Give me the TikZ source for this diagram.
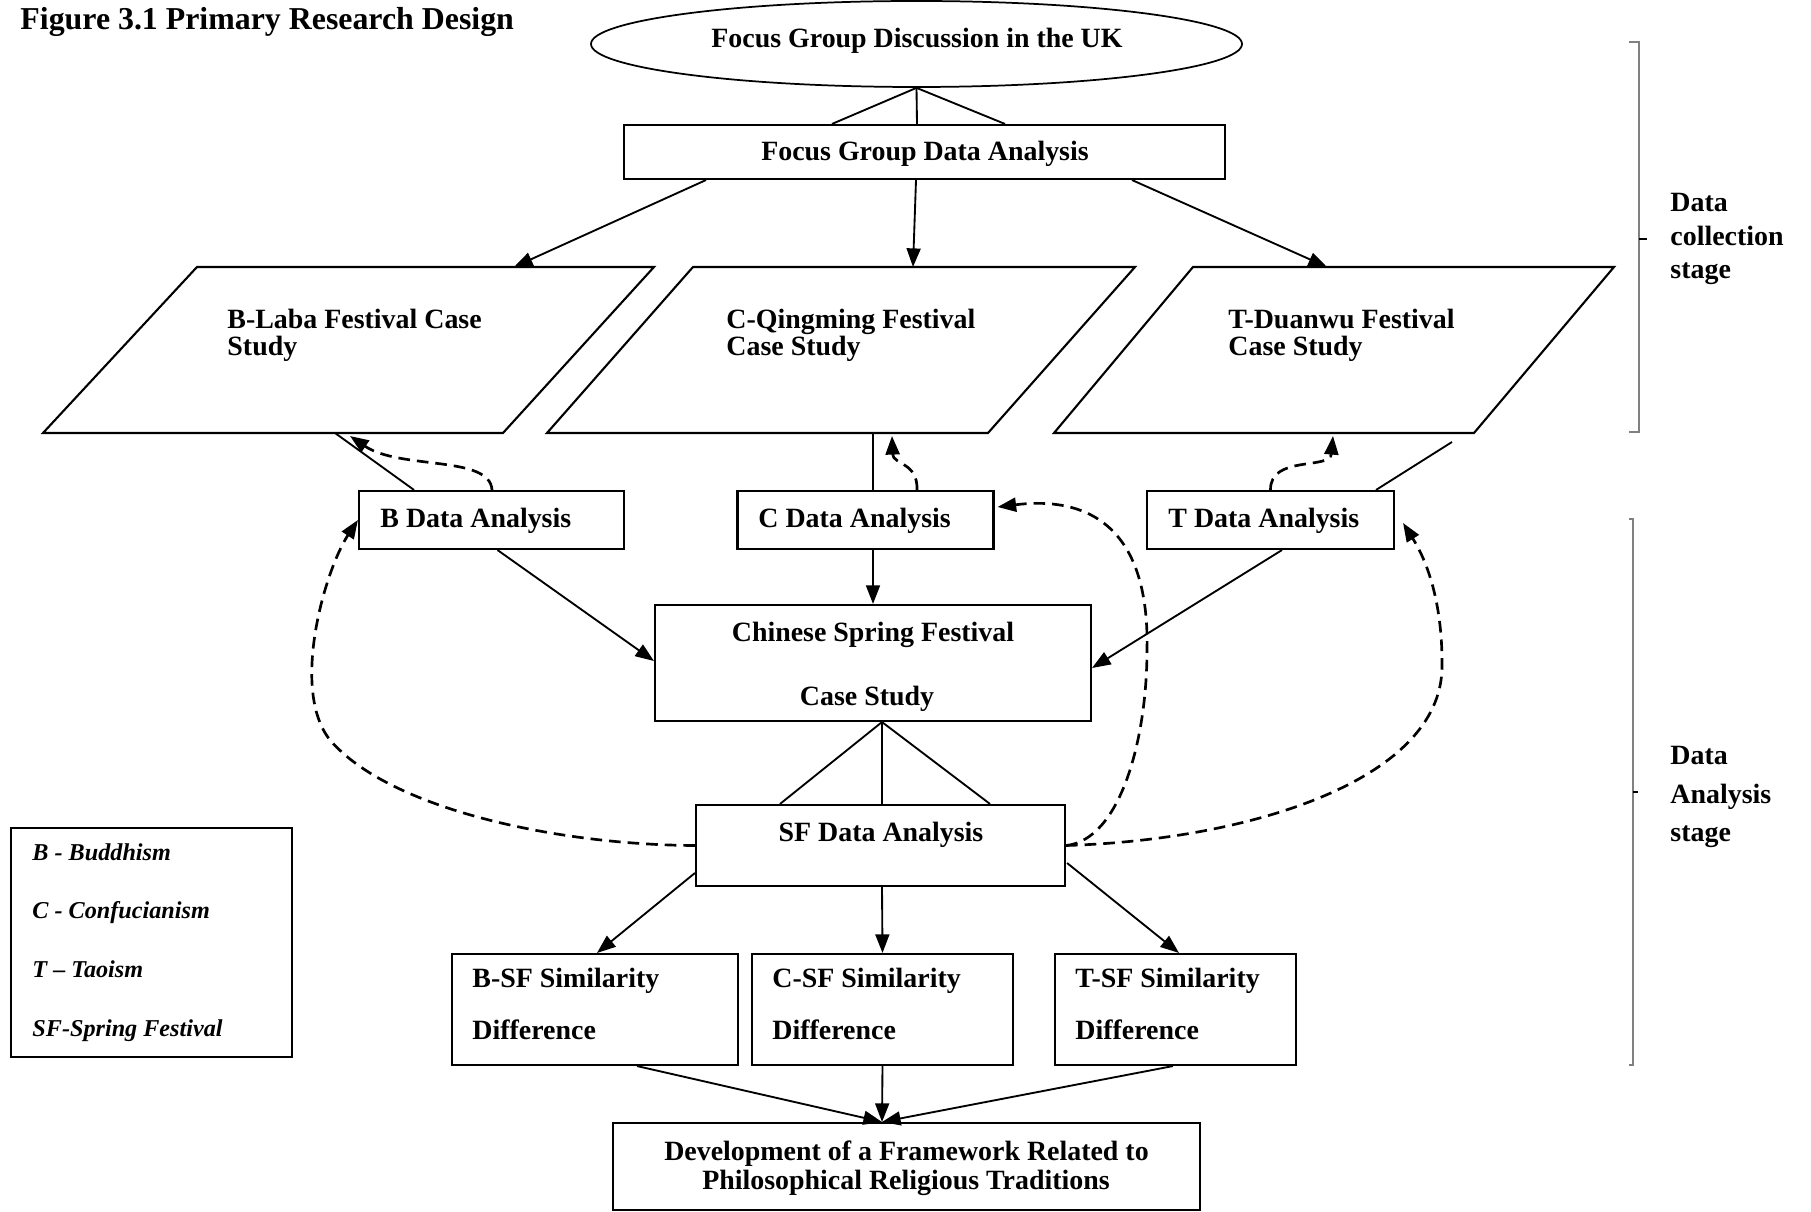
\documentclass[tikz,border=0pt]{standalone}
\usepackage{fontspec}
\setmainfont{Liberation Serif}
\usetikzlibrary{arrows.meta,shapes.geometric,calc}
% one drawing unit
\def\pxu{0.43pt}
\begin{document}
\begin{tikzpicture}[x=\pxu,y=-\pxu,
  box/.style={draw,line width=0.9pt,inner sep=0pt},
  sz/.style 2 args={minimum width=#1*\pxu,minimum height=#2*\pxu},
  outline/.style={line width=0.9pt},
  txt/.style={inner sep=0pt,font=\fontsize{12}{14}\selectfont\bfseries},
  ttl/.style={inner sep=0pt,font=\fontsize{13.7}{16}\selectfont\bfseries},
  lgd/.style={inner sep=0pt,font=\fontsize{10.4}{12}\selectfont\bfseries\itshape},
  conn/.style={line width=0.8pt},
  tip/.style={-{Triangle[length=8pt,width=6pt]}},
  arr/.style={conn,tip},
  darr/.style={line width=1.15pt,dash pattern=on 5pt off 3pt,tip},
  brace/.style={draw=gray,line width=0.45pt},
  tick/.style={draw=black,line width=0.6pt}
]
\useasboundingbox (0,0) rectangle (1811,1212);

% ---------- title ----------
\node[ttl,anchor=base west] (title) at (20,30) {Figure 3.1 Primary Research Design};

% ---------- focus group ----------
\node[box,ellipse,line width=0.75pt,sz={651}{86}] (fgd) at (916.5,44) {};
\node[txt,anchor=base] (fgdText) at (917,48) {Focus Group Discussion in the UK};

\node[box,sz={601}{54}] (fgda) at (924.5,152) {};
\node[txt,anchor=base] (fgdaText) at (925,161) {Focus Group Data Analysis};

% ---------- case studies (parallelograms) ----------
\draw[outline] (197,267) -- (654,267) -- (503,433) -- (43,433) -- cycle;
\draw[outline] (693,267) -- (1135,267) -- (988,433) -- (547,433) -- cycle;
\draw[outline] (1193,267) -- (1614,267) -- (1474,433) -- (1054,433) -- cycle;
\coordinate (bTop) at (514,267);
\coordinate (cTop) at (913,267);
\coordinate (tTop) at (1327,267);
\coordinate (bBot) at (335,433);
\coordinate (cBot) at (873,433);
\coordinate (bTip) at (350,436);
\coordinate (cTip) at (892,436);
\coordinate (tTip) at (1333,436);
\coordinate (tLineEnd) at (1452,442);

\node[txt,anchor=base west] (bCase1) at (227,329) {B-Laba Festival Case};
\node[txt,anchor=base west] (bCase2) at (227,356) {Study};
\node[txt,anchor=base west] (cCase1) at (726,329) {C-Qingming Festival};
\node[txt,anchor=base west] (cCase2) at (726,356) {Case Study};
\node[txt,anchor=base west] (tCase1) at (1228,329) {T-Duanwu Festival};
\node[txt,anchor=base west] (tCase2) at (1228,356) {Case Study};

% ---------- data analysis boxes ----------
\node[box,sz={265}{58}] (bda) at (491.5,520) {};
\node[txt,anchor=base west] (bdaText) at (380,528) {B Data Analysis};
\node[box,sz={256}{58}] (cda) at (865.5,520) {};
\node[txt,anchor=base west] (cdaText) at (758,528) {C Data Analysis};
\node[box,sz={247}{58}] (tda) at (1270.5,520) {};
\node[txt,anchor=base west] (tdaText) at (1168,528) {T Data Analysis};

\node[box,sz={436}{116}] (csf) at (873,663) {};
\node[txt,anchor=base] (csfText1) at (873,642) {Chinese Spring Festival};
\node[txt,anchor=base] (csfText2) at (867,706) {Case Study};

\node[box,sz={369}{81}] (sfda) at (880.5,845.5) {};
\node[txt,anchor=base] (sfdaText) at (881,842) {SF Data Analysis};

% ---------- similarity / difference ----------
\node[box,sz={286}{111}] (bsf) at (595,1009.5) {};
\node[txt,anchor=base west] (bsf1) at (472,987) {B-SF Similarity};
\node[txt,anchor=base west] (bsf2) at (472,1040) {Difference};
\node[box,sz={261}{111}] (csf2) at (882.5,1009.5) {};
\node[txt,anchor=base west] (csf21) at (772,987) {C-SF Similarity};
\node[txt,anchor=base west] (csf22) at (772,1040) {Difference};
\node[box,sz={241}{111}] (tsf) at (1175.5,1009.5) {};
\node[txt,anchor=base west] (tsf1) at (1075,987) {T-SF Similarity};
\node[txt,anchor=base west] (tsf2) at (1075,1040) {Difference};

\node[box,sz={587}{87}] (fw) at (906.5,1166.5) {};
\node[txt,anchor=base] (fw1) at (906.5,1160) {Development of a Framework Related to};
\node[txt,anchor=base] (fw2) at (906,1189) {Philosophical Religious Traditions};

% ---------- legend ----------
\node[box,sz={281}{229}] (legend) at (151.5,942.5) {};
\node[lgd,anchor=base west] (lg1) at (32,861) {B - Buddhism};
\node[lgd,anchor=base west] (lg2) at (32,919) {C - Confucianism};
\node[lgd,anchor=base west] (lg3) at (32,978) {T -- Taoism};
\node[lgd,anchor=base west] (lg4) at (32,1036) {SF-Spring Festival};

% ---------- stage braces ----------
\draw[brace] (1629,42) -- (1639,42) -- (1639,432) -- (1629,432);
\draw[tick] (1639,239) -- (1647,239);
\node[txt,anchor=base west] (st1) at (1670,212) {Data};
\node[txt,anchor=base west] (st2) at (1670,246) {collection};
\node[txt,anchor=base west] (st3) at (1670,279) {stage};

\draw[brace] (1629,519) -- (1633,519) -- (1633,1065) -- (1629,1065);
\draw[tick] (1633,792) -- (1638,792);
\node[txt,anchor=base west] (sa1) at (1670,765) {Data};
\node[txt,anchor=base west] (sa2) at (1670,804) {Analysis};
\node[txt,anchor=base west] (sa3) at (1670,842) {stage};

% ---------- connectors: focus group ----------
\draw[conn] (fgd.south) -- ($(fgda.north)+(-92.5,0)$);
\draw[conn] (fgd.south) -- ($(fgda.north)+(-7.5,0)$);
\draw[conn] (fgd.south) -- ($(fgda.north)+(80.5,0)$);
\draw[arr] ($(fgda.south)+(-218.5,0)$) -- (bTop);
\draw[arr] ($(fgda.south)+(-8.5,0)$) -- (cTop);
\draw[arr] ($(fgda.south)+(207.5,0)$) -- (tTop);

% ---------- connectors: case studies and their analyses ----------
\draw[conn] ($(bda.north)+(-77.5,0)$) -- (bBot);
\draw[darr] ($(bda.north)+(0.5,0)$) .. controls (490,455) and (400,470) .. (bTip);
\draw[conn] ($(cda.north)+(7.5,0)$) -- (cBot);
\draw[darr] ($(cda.north)+(51.5,0)$) .. controls (918,462) and (893,465) .. (cTip);
\draw[darr] (tda.north) .. controls (1270,455) and (1330,470) .. (tTip);
\draw[conn] ($(tda.north)+(105.5,0)$) -- (tLineEnd);

% ---------- connectors: into the Spring Festival case ----------
\draw[arr] ($(bda.south)+(6,0)$) -- ($(csf.west)+(0,-2)$);
\draw[arr] ($(cda.south)+(7.5,0)$) -- (csf.north);
\draw[arr] ($(tda.south)+(11.5,0)$) -- ($(csf.east)+(0,5)$);

\draw[conn] ($(csf.south)+(9,0)$) -- ($(sfda.north)+(-100.5,0)$);
\draw[conn] ($(csf.south)+(9,0)$) -- ($(sfda.north)+(1.5,0)$);
\draw[conn] ($(csf.south)+(9,0)$) -- ($(sfda.north)+(109.5,0)$);

% ---------- feedback loops ----------
\draw[darr] (sfda.west) .. controls (560,845) and (390,810) .. (330,740)
  .. controls (290,690) and (325,570) .. (bda.west);
\draw[darr] (sfda.east) .. controls (1120,840) and (1147,740) .. (1147,650)
  .. controls (1150,510) and (1070,498) .. ($(cda.east)+(3,-13)$);
\draw[darr] (sfda.east) .. controls (1250,840) and (1440,780) .. (1442,668)
  .. controls (1443,590) and (1420,550) .. ($(tda.east)+(8,3)$);

% ---------- connectors: comparisons ----------
\draw[arr] ($(sfda.west)+(0,27.5)$) -- ($(bsf.north)+(2,0)$);
\draw[arr] ($(sfda.south)+(1.5,0)$) -- (csf2.north);
\draw[arr] ($(sfda.east)+(1,17.5)$) -- ($(tsf.north)+(3.5,0)$);

\draw[arr] ($(bsf.south)+(42,0)$) -- ($(fw.north)+(-24.5,0)$);
\draw[arr] (csf2.south) -- ($(fw.north)+(-24.5,0)$);
\draw[arr] ($(tsf.south)+(-2.5,0)$) -- ($(fw.north)+(-24.5,0)$);
\end{tikzpicture}
\end{document}
